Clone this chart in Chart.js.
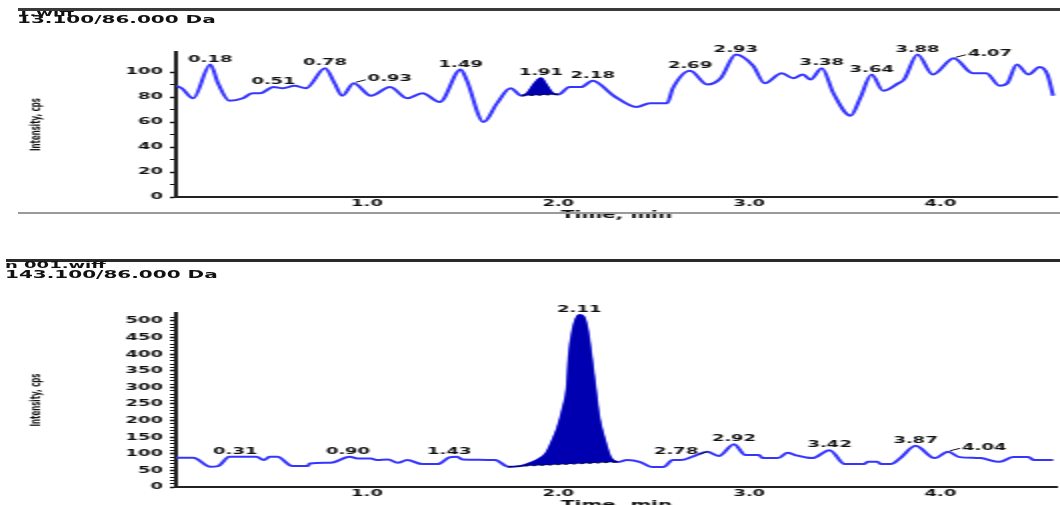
<!DOCTYPE html>
<html><head><meta charset="utf-8">
<script src="https://cdn.jsdelivr.net/npm/chart.js@4.4.1/dist/chart.umd.min.js"></script>
<style>
html,body{margin:0;padding:0;background:#fff;overflow:hidden;width:1060px;height:505px;}
#stage{position:absolute;left:0;top:0;width:530px;height:505px;transform:scaleX(2);transform-origin:0 0;}
.hdr{position:absolute;font-family:"DejaVu Sans";font-weight:bold;color:#111;white-space:nowrap;}
.rule{position:absolute;}
canvas{position:absolute;left:0;}
</style></head><body>
<div id="stage">
  <div class="hdr" style="left:8.5px;top:9px;font-size:9px;line-height:9px;">1.wiff</div>
  <div class="rule" style="left:8.5px;top:8px;width:522px;height:3px;background:#3a3a3a;"></div>
  <div class="hdr" style="left:8.5px;top:14px;font-size:10px;line-height:11px;">13.100/86.000 Da</div>
  <canvas id="c1" width="530" height="225" style="top:0px;width:530px;height:225px;"></canvas>
  <div class="rule" style="left:8.5px;top:212px;width:522px;height:1.5px;background:#9a9a9a;"></div>

  <div class="rule" style="left:2.5px;top:259px;width:528px;height:3px;background:#2a2a2a;"></div>
  <div class="hdr" style="left:2.5px;top:261px;font-size:9px;line-height:9px;">n 001.wiff</div>
  <div class="hdr" style="left:2.5px;top:269px;font-size:10px;line-height:11px;">143.100/86.000 Da</div>
  <canvas id="c2" width="530" height="280" style="top:240px;width:530px;height:280px;"></canvas>
</div>
<script>
// ---------- data ----------
const xTickValues = [1, 2, 3, 4];

const topTime = [0.00,0.03,0.09,0.18,0.22,0.28,0.35,0.40,0.44,0.51,0.56,0.62,0.68,0.78,0.83,0.87,0.93,1.02,1.12,1.21,1.29,1.38,1.49,1.52,1.61,1.68,1.75,1.81,1.84,1.88,1.91,1.93,1.97,2.00,2.06,2.12,2.18,2.29,2.41,2.48,2.57,2.60,2.69,2.78,2.85,2.93,3.02,3.08,3.17,3.23,3.28,3.32,3.38,3.44,3.53,3.58,3.64,3.70,3.78,3.81,3.88,3.96,4.07,4.17,4.24,4.31,4.35,4.40,4.46,4.52,4.56,4.59];
const topIntensity = [89,87,79,106,91,77,79,83,83,88,87,89,87,103,91,81,91,81,88,79,83,76,102,94,60,75,87,81,83,91,95,91,83,82,88,88,93,81,72,75,75,87,101,90,95,114,105,91,99,95,98,94,103,83,65,79,98,85,91,94,114,98,111,99,99,89,91,106,98,104,98,81];
const topPeakTimes = [0.18,0.51,0.78,1.49,1.91,2.18,2.69,2.93,3.38,3.64,3.88];
const topLeaderRight = [0.93,4.07];
const topLeaderLeft = [];
const topFillRange = [1.81, 2.00];

const botTime = [0.00,0.09,0.18,0.22,0.28,0.42,0.46,0.49,0.53,0.61,0.69,0.70,0.81,0.91,0.95,1.02,1.05,1.11,1.16,1.21,1.29,1.37,1.43,1.47,1.50,1.67,1.74,1.80,1.84,1.89,1.94,1.97,2.00,2.03,2.05,2.06,2.08,2.11,2.13,2.15,2.17,2.19,2.21,2.24,2.27,2.31,2.36,2.43,2.49,2.55,2.60,2.64,2.71,2.78,2.84,2.92,2.98,3.05,3.07,3.15,3.20,3.24,3.33,3.42,3.50,3.60,3.62,3.67,3.69,3.74,3.79,3.87,3.97,4.04,4.10,4.21,4.30,4.31,4.38,4.46,4.49,4.59];
const botIntensity = [88,88,61,63,91,91,81,91,91,63,63,71,73,91,86,86,81,83,73,81,69,69,89,91,83,81,61,63,69,81,102,136,178,241,301,392,473,518,513,473,392,301,211,142,90,75,81,75,60,60,81,81,93,106,93,129,96,96,87,87,103,96,87,111,69,69,76,76,69,69,87,124,87,106,90,87,76,76,90,90,81,81];
const botPeakTimes = [0.31,0.90,1.43,2.11,2.92,3.42,3.87];
const botLeaderRight = [4.04];
const botLeaderLeft = [2.78];
const botFillRange = [1.74, 2.31];

// ---------- helpers ----------
const FONT = '"DejaVu Sans"';
const LINE = '#3535ff';
const NAVY = '#0000b0';

function toPts(ts, vs){ return ts.map((t,i)=>({x:t, y:vs[i]})); }
function subset(pts, r){ return pts.filter(p => p.x >= r[0]-1e-9 && p.x <= r[1]+1e-9); }
function valueAt(ts, vs, t){
  for (let i=0;i<ts.length-1;i++){
    if (t>=ts[i] && t<=ts[i+1]){
      const f=(t-ts[i])/(ts[i+1]-ts[i]); return vs[i]+f*(vs[i+1]-vs[i]);
    }
  }
  return vs[vs.length-1];
}

const peakLabelPlugin = {
  id:'peakLabels',
  afterDatasetsDraw(chart, args, o){
    const ctx = chart.ctx, xs = chart.scales.x, ys = chart.scales.y;
    ctx.save();
    ctx.font = 'bold 9px ' + FONT;
    ctx.fillStyle = '#111'; ctx.strokeStyle = '#111'; ctx.lineWidth = 1;
    ctx.textBaseline = 'alphabetic';
    const pos = t => [xs.getPixelForValue(t), ys.getPixelForValue(valueAt(o.ts, o.vs, t))];
    o.peaks.forEach(t => {
      const [px,py] = pos(t);
      ctx.textAlign = 'center'; ctx.fillText(t.toFixed(2), px, py-3);
    });
    o.right.forEach(t => {
      const [px,py] = pos(t);
      ctx.beginPath(); ctx.moveTo(px+1, py-1); ctx.lineTo(px+6, py-3.5); ctx.stroke();
      ctx.textAlign = 'left'; ctx.fillText(t.toFixed(2), px+7, py-2);
    });
    o.left.forEach(t => {
      const [px,py] = pos(t);
      ctx.beginPath(); ctx.moveTo(px, py); ctx.lineTo(px-4, py+2.5); ctx.stroke();
      ctx.textAlign = 'right'; ctx.fillText(t.toFixed(2), px-4.5, py+2);
    });
    ctx.restore();
  }
};

function makeChart(id, ts, vs, fillRange, yMax, labelStep, padTop, padBottom, labels){
  const pts = toPts(ts, vs);
  const peak = subset(pts, fillRange);
  const base = [peak[0], peak[peak.length-1]];
  return new Chart(document.getElementById(id), {
    type:'line',
    data:{ datasets:[
      {data:pts, borderColor:LINE, borderWidth:2, pointRadius:0, tension:0.4, cubicInterpolationMode:'monotone', fill:false, order:2},
      {data:peak, borderColor:NAVY, backgroundColor:NAVY, borderWidth:1.4, pointRadius:0, tension:0.4, cubicInterpolationMode:'monotone', fill:'+1', order:1},
      {data:base, borderColor:'#111', borderWidth:1, borderDash:[2,2], pointRadius:0, fill:false, order:0}
    ]},
    options:{
      responsive:false, maintainAspectRatio:false, animation:false, events:[],
      layout:{ padding:{top:padTop, right:1.5, bottom:padBottom, left:0} },
      plugins:{ legend:{display:false}, tooltip:{enabled:false},
        peakLabels:{ ts:ts, vs:vs, peaks:labels.peaks, right:labels.right, left:labels.left } },
      scales:{
        x:{ type:'linear', min:0, max:4.61,
          afterBuildTicks: s => { s.ticks = xTickValues.map(v => ({value:v})); },
          afterFit: s => { s.height = 28; },
          grid:{display:false, drawTicks:false, tickLength:0},
          border:{display:true, color:'#222', width:2},
          ticks:{ padding:1, color:'#111', font:{family:FONT, size:9, weight:'bold'}, callback:v => Number(v).toFixed(1), maxRotation:0, autoSkip:false },
          title:{ display:true, text:'Time, min', color:'#111', font:{family:FONT, size:10, weight:'bold'}, padding:{top:0, bottom:3.5} }
        },
        y:{ type:'linear', min:0, max:yMax,
          afterBuildTicks: s => { s.ticks = s.ticks.filter(t => Math.abs(t.value/10 - Math.round(t.value/10)) < 1e-6); },
          afterFit: s => { s.width = 88; },
          grid:{ drawOnChartArea:false, drawTicks:true, tickLength:3, color:'#111',
                 tickWidth: c => (c.tick && c.tick.value % labelStep === 0) ? 1.5 : 1 },
          border:{display:true, color:'#222', width:2},
          ticks:{ stepSize:10, autoSkip:false, padding:3.5, color:'#111', font:{family:FONT, size:9, weight:'bold'},
                  callback: v => (v % labelStep === 0 ? String(v) : '') },
          title:{ display:true, text:'Intensity, cps', color:'#111', font:{family:FONT, size:7, weight:'bold'}, padding:{top:13.5, bottom:0} }
        }
      }
    },
    plugins:[peakLabelPlugin]
  });
}

makeChart('c1', topTime, topIntensity, topFillRange, 116, 20, 52, 0,
  {peaks:topPeakTimes, right:topLeaderRight, left:topLeaderLeft});
makeChart('c2', botTime, botIntensity, botFillRange, 524, 50, 73, 5,
  {peaks:botPeakTimes, right:botLeaderRight, left:botLeaderLeft});
</script>
</body></html>
